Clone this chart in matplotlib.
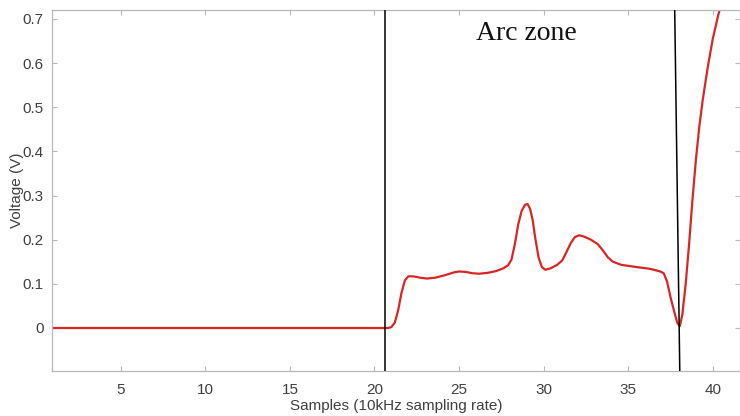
import numpy as np
import matplotlib.pyplot as plt

# voltage trace
samples = [0.92, 20.8, 21.0, 21.2, 21.4, 21.6, 21.8, 22.0, 22.3, 22.7, 23.1, 23.6,
           24.2, 24.7, 25.0, 25.4, 25.8, 26.2, 26.7, 27.2, 27.6, 27.9, 28.1, 28.3,
           28.5, 28.7, 28.9, 29.05, 29.2, 29.35, 29.5, 29.7, 29.9, 30.1, 30.4, 30.8,
           31.1, 31.3, 31.6, 31.85, 32.1, 32.4, 32.8, 33.2, 33.5, 33.8, 34.1, 34.6,
           35.5, 36.3, 36.9, 37.1, 37.3, 37.5, 37.7, 37.9, 38.05, 38.2, 38.4, 38.6,
           38.8, 39.0, 39.2, 39.4, 39.7, 40.0, 40.3, 40.6, 41.0]
voltage = [0.0, 0.0, 0.002, 0.012, 0.04, 0.08, 0.108, 0.117, 0.117, 0.114, 0.112, 0.114,
           0.12, 0.126, 0.128, 0.127, 0.124, 0.123, 0.125, 0.129, 0.135, 0.142, 0.155, 0.19,
           0.235, 0.265, 0.279, 0.281, 0.27, 0.245, 0.205, 0.16, 0.138, 0.132, 0.135, 0.143,
           0.153, 0.168, 0.192, 0.206, 0.21, 0.207, 0.2, 0.19, 0.176, 0.16, 0.15, 0.143,
           0.138, 0.134, 0.128, 0.124, 0.105, 0.07, 0.04, 0.012, 0.004, 0.03, 0.1, 0.19,
           0.29, 0.38, 0.455, 0.515, 0.59, 0.655, 0.705, 0.75, 0.8]

zone_start = [20.63, 20.63]
zone_end = [37.75, 38.05]
xticks = [5, 10, 15, 20, 25, 30, 35, 40]
yticks = [0, 0.1, 0.2, 0.3, 0.4, 0.5, 0.6, 0.7]

plt.rcParams['font.family'] = ['Liberation Sans', 'DejaVu Sans']

fig = plt.figure(figsize=(7.4, 4.16), dpi=100)
ax = fig.add_axes([0.0699, 0.1082, 0.9301, 0.8678])

ylo, yhi = -0.0974, 0.7204
ax.plot(samples, voltage, color='#d92525', lw=1.6, zorder=2)
ax.plot(zone_start, [ylo, yhi], color='black', lw=1.1, zorder=3)
ax.plot(zone_end, [yhi, ylo], color='black', lw=1.1, zorder=3)

ax.text(29.0, 0.652, 'Arc zone', family='Liberation Serif', fontsize=20,
        ha='center', va='baseline', color='#111111')

ax.set_xlim(0.92, 41.61)
ax.set_ylim(ylo, yhi)
ax.set_xticks(xticks)
ax.set_yticks(yticks)
ax.set_yticklabels(['0', '0.1', '0.2', '0.3', '0.4', '0.5', '0.6', '0.7'])

ax.tick_params(direction='in', top=True, right=True, length=3.5, width=0.8,
               color='#b8b8b8', labelcolor='#404040', labelsize=11)
ax.tick_params(axis='x', pad=9)
ax.tick_params(axis='y', pad=6)
for s in ax.spines.values():
    s.set_color('#b8b8b8')
    s.set_linewidth(0.9)

ax.set_xlabel('Samples (10kHz sampling rate)', fontsize=11, color='#404040', labelpad=1)
ax.set_ylabel('Voltage (V)', fontsize=11, color='#404040', labelpad=-1)

fig.savefig('out.png', dpi=100)
